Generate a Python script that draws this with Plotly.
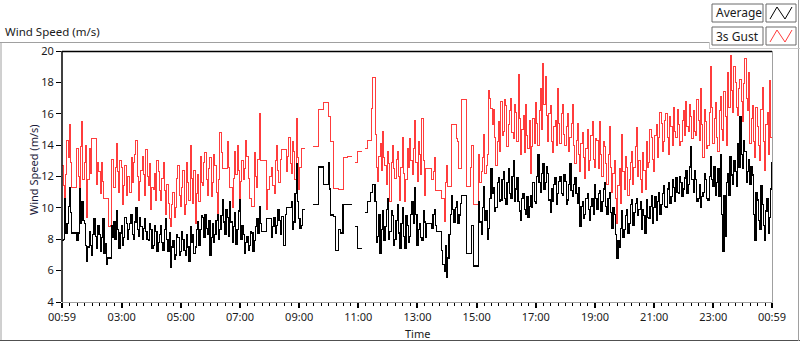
import pandas as pd
import plotly.graph_objects as go

# ---------------- data ----------------
time_start = "2024-01-01 00:59"
n_samples = 289          # readings on the 5-min grid
n_fine = 2 * n_samples - 1  # plus the readings half-way in between (2.5-min grid)
times = pd.date_range(time_start, periods=n_fine, freq="150s")

# 3s gust readings on the 5-min grid
gust_speed = [
    12.7, 9.6, 14.3, 15.3, 11.3, 11.3, 13.8, 10.6, 15.5, 12.9,
    9.4, 13.8, 14.4, 14.4, 11.5, 12.3, 12.9, 10.6, 10.6, 8.8,
    13.1, 11.3, 14.1, 11.0, 12.6, 11.4, 10.8, 12.0, 13.2, 12.9,
    14.3, 10.5, 12.4, 12.1, 13.7, 11.4, 9.9, 11.2, 10.5, 12.3,
    10.5, 12.9, 9.6, 10.3, 8.8, 11.0, 10.0, 12.7, 10.1, 12.4,
    10.2, 11.6, 14.0, 10.3, 9.0, 12.1, 13.3, 11.4, 13.5, 10.8,
    13.2, 11.6, 12.7, 9.5, 14.8, 12.5, 12.5, 14.2, 11.3, 10.0,
    13.6, 14.0, 10.0, 13.0, 12.5, 13.3, 10.6, 10.1, 13.5, 11.3,
    16.0, 13.0, 13.0, 9.9, 12.0, 12.6, 10.9, 14.0, 11.6, 13.7,
    13.7, 12.3, 14.5, 12.2, 13.6, 15.7, 11.2, 13.8, 13.8, None,
    None, None, 13.9, 13.9, 16.3, 16.3, 16.7, 16.7, 15.8, 14.2,
    11.25, 11.25, 11.15, 11.15, 13.2, 13.2, 13.3, 13.3, None, 12.9,
    13.6, 13.6, None, 13.8, 14.3, 14.3, 18.3, 14.65, 11.7, 14.1,
    14.9, 12.7, 13.6, 10.4, 14.0, 11.9, 13.6, 10.5, 14.5, 10.4,
    13.8, 14.4, 12.1, 15.6, 11.7, 13.4, 15.7, 10.8, 12.5, 12.5,
    11.8, 13.2, 11.1, 11.1, 10.6, 9.1, 12.7, 11.35, 15.3, 15.3,
    14.4, 12.5, 16.9, 16.9, 11.35, 11.35, 14.0, 10.2, 10.2, 13.4,
    12.3, 14.65, 12.7, 17.5, 16.35, 16.3, 12.7, 15.5, 16.8, 14.9,
    16.5, 15.3, 17.0, 14.4, 16.1, 18.5, 13.4, 15.9, 16.6, 13.8,
    12.2, 15.7, 16.7, 14.0, 17.6, 19.2, 18.4, 14.2, 16.5, 13.5,
    15.6, 17.6, 14.1, 16.6, 14.0, 16.0, 14.5, 16.6, 12.8, 15.4,
    12.3, 14.8, 11.9, 15.0, 13.0, 15.5, 12.6, 14.3, 15.5, 12.0,
    13.9, 11.5, 15.2, 11.0, 13.0, 9.0, 12.5, 14.7, 11.2, 12.6,
    11.8, 13.6, 12.6, 15.1, 13.0, 11.0, 12.4, 14.2, 12.9, 14.5,
    12.3, 15.3, 14.5, 15.4, 14.2, 16.0, 13.4, 15.2, 16.4, 14.5,
    15.3, 14.2, 16.2, 16.8, 14.9, 15.8, 16.2, 14.6, 15.6, 17.6,
    13.2, 15.5, 14.0, 19.0, 14.1, 16.7, 13.6, 17.1, 14.3, 15.8,
    18.6, 19.7, 16.1, 18.0, 15.9, 18.2, 15.5, 19.5, 16.2, 14.1,
    16.5, 13.2, 15.2, 13.0, 17.7, 12.4, 16.1, 18.1, 17.2,
]
# 3s gust readings half-way between the 5-min grid points
gust_speed_mid = [
    11.4, 12.1, 13.2, 12.9, 11.3, 11.3, 12.0, 13.9, 11.8, 14.0,
    11.8, 12.2, 14.4, 14.4, 12.9, 10.9, 11.7, 10.6, 10.6, 8.9,
    13.1, 12.6, 12.3, 13.0, 10.2, 12.7, 12.0, 11.0, 11.6, 13.4,
    12.0, 11.7, 13.3, 10.8, 12.0, 12.8, 11.3, 12.2, 13.0, 11.1,
    11.9, 11.1, 11.5, 9.3, 10.2, 9.4, 11.9, 10.8, 11.3, 9.6,
    12.9, 10.5, 11.9, 12.4, 10.9, 10.4, 11.6, 12.9, 11.8, 12.5,
    10.7, 13.4, 11.0, 11.8, 13.5, 12.5, 12.5, 12.6, 11.3, 11.9,
    12.1, 12.4, 11.7, 11.8, 14.3, 11.9, 10.6, 10.1, 12.0, 13.1,
    13.0, 13.0, 13.0, 11.2, 12.0, 11.4, 13.0, 12.4, 13.1, 13.7,
    13.7, 13.3, 12.8, 14.2, 11.8, 13.2, 12.6, 13.8, 13.8, None,
    None, None, 13.9, 13.9, 16.3, 16.3, 16.7, 16.7, 15.8, 14.2,
    11.25, 11.25, 11.15, 11.15, 13.2, 13.2, 13.3, 13.3, None, 12.9,
    13.6, 13.6, None, 13.8, 14.3, 16.35, 18.3, 12.6, 13.3, 12.4,
    13.2, 11.5, 12.8, 12.9, 12.5, 13.1, 12.0, 12.6, 12.2, 11.8,
    12.6, 13.0, 13.8, 12.9, 14.2, 12.1, 13.0, 12.5, 12.5, 12.5,
    12.3, 11.1, 11.1, 11.1, 10.6, 11.6, 11.35, 11.35, 15.3, 15.3,
    14.2, 12.5, 16.9, 16.9, 11.35, 12.6, 14.0, 10.2, 10.2, 11.6,
    13.2, 12.2, 13.4, 17.0, 15.3, 14.5, 14.2, 13.6, 14.6, 16.9,
    13.9, 16.2, 14.8, 16.6, 14.2, 15.7, 15.0, 13.5, 14.6, 15.6,
    13.9, 14.1, 15.4, 16.2, 15.0, 16.6, 15.9, 16.0, 14.2, 15.2,
    14.0, 15.4, 16.0, 14.7, 15.2, 13.6, 15.4, 14.0, 14.3, 13.4,
    14.1, 13.2, 13.8, 12.4, 14.6, 13.1, 14.4, 12.5, 13.4, 14.2,
    12.8, 13.4, 12.6, 12.2, 10.6, 11.4, 10.3, 12.3, 13.3, 10.8,
    12.9, 11.5, 13.9, 12.0, 11.8, 13.5, 11.2, 12.6, 15.0, 13.1,
    14.6, 13.2, 16.1, 13.6, 15.6, 14.5, 15.8, 14.0, 14.9, 16.3,
    14.0, 15.6, 14.6, 15.2, 16.6, 14.4, 14.9, 16.9, 14.3, 15.3,
    16.3, 13.8, 16.1, 16.4, 15.7, 14.5, 16.2, 15.0, 17.4, 14.0,
    16.4, 17.5, 19.0, 16.4, 17.6, 16.8, 17.9, 17.0, 18.6, 15.7,
    14.2, 16.4, 14.0, 16.3, 14.2, 15.3, 13.4, 14.5,
]

# 10-min average readings on the 5-min grid
avg_speed = [
    7.9, 10.6, 9.0, 11.3, 8.4, 8.4, 7.9, 11.2, 10.4, 9.0,
    6.6, 8.5, 7.0, 9.3, 7.4, 8.3, 8.1, 7.1, 6.4, 6.8,
    8.9, 9.1, 9.8, 7.4, 8.9, 8.1, 9.0, 8.6, 9.6, 8.0,
    10.0, 8.2, 8.8, 8.7, 8.5, 7.9, 8.6, 7.6, 8.5, 7.8,
    8.9, 7.3, 9.3, 7.2, 6.2, 7.9, 7.0, 8.1, 7.2, 8.0,
    7.0, 7.5, 8.8, 8.3, 7.5, 9.1, 8.6, 9.4, 9.6, 8.3,
    7.0, 9.0, 8.3, 9.6, 8.6, 10.5, 8.3, 9.4, 10.4, 7.8,
    9.7, 8.6, 10.5, 8.9, 7.1, 8.2, 7.6, 8.4, 7.9, 9.3,
    10.1, 8.5, 8.5, 9.3, 9.3, 8.1, 9.4, 8.9, 9.2, 9.45,
    7.6, 10.0, 10.0, 10.4, 9.1, 12.8, 9.3, 8.9, 9.9, None,
    None, None, 10.2, 10.2, 12.6, 12.6, 11.5, 11.5, 12.9, 9.55,
    9.45, 7.3, 8.6, 8.4, 10.2, 10.2, 10.2, 10.2, None, 8.8,
    7.4, 7.4, None, 9.7, 10.4, 11.0, 11.5, 10.4, 8.2, 7.1,
    9.8, 8.8, 10.6, 8.5, 9.5, 8.0, 10.2, 7.4, 10.0, 7.4,
    8.9, 8.2, 10.4, 11.3, 7.6, 9.0, 7.9, 9.1, 9.0, 9.0,
    8.7, 9.9, 8.5, 8.5, 7.3, 5.95, 5.6, 8.3, 10.8, 9.1,
    10.4, 9.55, 10.8, 10.8, 7.1, 7.1, 8.9, 6.3, 6.3, 10.4,
    8.3, 11.35, 9.8, 8.7, 12.5, 11.3, 10.0, 11.9, 10.5, 12.3,
    10.2, 12.5, 10.6, 13.0, 11.2, 10.4, 9.2, 10.9, 9.6, 9.4,
    10.8, 11.6, 10.3, 13.4, 11.0, 12.8, 11.6, 12.2, 9.7, 10.4,
    11.9, 10.9, 12.0, 10.8, 11.7, 10.5, 12.8, 10.7, 11.9, 10.3,
    8.8, 10.4, 9.6, 10.9, 9.2, 10.6, 11.5, 9.9, 11.1, 10.4,
    11.6, 9.6, 11.0, 8.7, 9.6, 6.8, 7.5, 9.8, 8.6, 9.9,
    9.0, 10.5, 9.7, 10.6, 9.9, 8.6, 9.5, 10.5, 9.3, 10.8,
    10.0, 9.2, 11.0, 10.2, 11.4, 10.0, 11.6, 10.7, 11.3, 11.9,
    10.9, 11.6, 11.2, 12.4, 11.5, 13.9, 11.0, 11.8, 10.6, 10.0,
    11.0, 11.8, 10.5, 13.3, 11.4, 10.8, 12.5, 13.4, 7.2, 8.2,
    12.2, 13.3, 11.5, 12.3, 14.1, 15.8, 12.5, 13.6, 12.3, 11.5,
    12.1, 7.9, 10.5, 8.6, 10.2, 7.9, 10.6, 9.4, 12.9,
]
# average readings half-way between the 5-min grid points
avg_speed_mid = [
    8.0, 8.4, 10.1, 9.7, 8.4, 8.4, 8.4, 9.0, 9.2, 7.6,
    7.5, 7.6, 8.3, 8.2, 8.9, 7.2, 9.3, 7.7, 6.8, 6.8,
    8.1, 8.0, 8.6, 8.4, 7.6, 9.4, 8.0, 9.0, 8.3, 9.1,
    8.6, 9.4, 8.0, 9.3, 8.0, 9.0, 7.4, 8.9, 7.2, 8.3,
    7.8, 8.6, 8.0, 8.4, 7.5, 6.7, 8.3, 7.0, 8.5, 7.3,
    8.3, 6.6, 7.8, 7.1, 8.6, 7.6, 9.5, 8.1, 8.7, 9.2,
    8.1, 7.8, 9.2, 8.0, 9.5, 9.1, 9.9, 8.2, 9.1, 8.8,
    7.7, 9.8, 8.0, 8.3, 7.8, 7.3, 8.5, 7.2, 8.8, 8.4,
    9.0, 8.5, 8.5, 9.3, 9.3, 8.8, 8.4, 9.9, 8.3, 9.45,
    9.6, 10.0, 10.0, 8.6, 10.9, 10.4, 8.7, 9.9, 9.9, None,
    None, None, 10.2, 10.2, 12.6, 12.6, 11.5, 11.5, 11.2, 9.55,
    9.45, 7.3, 8.6, 8.4, 10.2, 10.2, 10.2, 10.2, None, 8.8,
    7.4, 7.4, None, 9.7, 10.4, 11.0, 11.5, 7.8, 9.6, 8.6,
    7.9, 9.9, 8.0, 9.8, 7.6, 9.2, 8.4, 9.0, 8.2, 9.5,
    7.8, 9.6, 9.0, 9.6, 8.6, 8.1, 9.8, 8.1, 9.0, 9.0,
    9.6, 8.9, 8.5, 8.5, 6.4, 7.6, 6.8, 9.6, 9.9, 10.0,
    9.0, 10.3, 10.8, 10.8, 7.1, 7.1, 8.9, 6.3, 6.3, 9.1,
    10.0, 9.2, 8.0, 10.6, 10.9, 9.8, 11.6, 10.4, 11.8, 10.6,
    11.6, 10.9, 12.0, 10.4, 11.9, 9.8, 10.6, 9.9, 10.7, 10.1,
    10.0, 10.4, 12.0, 11.6, 12.2, 11.2, 12.6, 10.5, 11.2, 11.5,
    10.2, 11.7, 10.9, 12.1, 10.2, 11.5, 11.1, 11.5, 10.9, 11.3,
    10.1, 9.3, 10.6, 9.9, 10.1, 9.6, 10.6, 10.9, 9.8, 11.2,
    10.1, 10.6, 9.7, 10.0, 8.3, 7.9, 8.7, 8.1, 9.5, 8.4,
    10.2, 8.9, 10.3, 9.5, 10.4, 9.9, 8.4, 9.4, 10.1, 9.0,
    10.7, 10.4, 9.6, 10.9, 10.1, 11.2, 10.3, 11.8, 10.4, 11.0,
    12.0, 10.7, 11.9, 10.9, 12.6, 11.8, 12.4, 10.4, 11.5, 10.7,
    12.2, 10.6, 12.0, 11.8, 12.6, 11.6, 10.7, 9.6, 10.8, 11.6,
    10.8, 12.1, 13.0, 11.4, 12.6, 13.4, 14.3, 11.6, 13.1, 12.6,
    9.6, 11.0, 9.2, 11.4, 8.9, 9.8, 8.4, 11.2,
]

assert len(gust_speed) == n_samples and len(avg_speed) == n_samples
assert len(gust_speed_mid) == n_samples - 1 and len(avg_speed_mid) == n_samples - 1


def merge(grid, mid):
    out = []
    for a, b in zip(grid[:-1], mid):
        out += [a, b]
    out.append(grid[-1])
    return out


gust_series = merge(gust_speed, gust_speed_mid)
avg_series = merge(avg_speed, avg_speed_mid)

x_tick_times = ["2024-01-01 00:59", "2024-01-01 03:00", "2024-01-01 05:00",
                "2024-01-01 07:00", "2024-01-01 09:00", "2024-01-01 11:00",
                "2024-01-01 13:00", "2024-01-01 15:00", "2024-01-01 17:00",
                "2024-01-01 19:00", "2024-01-01 21:00", "2024-01-01 23:00",
                "2024-01-02 00:59"]
x_tick_labels = ["00:59", "03:00", "05:00", "07:00", "09:00", "11:00", "13:00",
                 "15:00", "17:00", "19:00", "21:00", "23:00", "00:59"]
y_ticks = [4, 6, 8, 10, 12, 14, 16, 18, 20]

series_names = ["Average", "3s Gust"]

# ---------------- layout helpers (pixel -> paper) ----------------
W, H = 800, 342
L, R, T, B = 62, 772, 51, 302


def px(x):
    return (x - L) / (R - L)


def py(y):
    return (B - y) / (B - T)


FONT = "Noto Sans, Open Sans, sans-serif"
TXT = "#1a1a1a"
RED = "#ff3c3c"
FS = 11

fig = go.Figure()
fig.add_trace(go.Scatter(x=times, y=gust_series, mode="lines", line_shape="hv",
                         line=dict(color=RED, width=1), name=series_names[1],
                         connectgaps=False, hoverinfo="skip"))
fig.add_trace(go.Scatter(x=times, y=avg_series, mode="lines", line_shape="hv",
                         line=dict(color="#000000", width=1.2), name=series_names[0],
                         connectgaps=False, hoverinfo="skip"))

minor_vals = list(pd.date_range("2024-01-01 01:00", "2024-01-02 00:45", freq="15min"))

fig.update_layout(
    width=W, height=H,
    margin=dict(l=L, r=W - R, t=T, b=H - B),
    paper_bgcolor="white", plot_bgcolor="white",
    showlegend=False,
    font=dict(family=FONT, size=FS, color=TXT),
    xaxis=dict(
        range=[times[0], times[-1]], showgrid=False, zeroline=False,
        tickmode="array", tickvals=x_tick_times, ticktext=x_tick_labels,
        ticks="outside", ticklen=5, tickwidth=2, tickcolor="#000",
        tickfont=dict(size=FS, color=TXT, family=FONT),
        minor=dict(tickvals=minor_vals, ticks="outside", ticklen=3,
                   tickwidth=1, tickcolor="#000", showgrid=False),
        showline=False,
    ),
    yaxis=dict(
        range=[4, 20], showgrid=False, zeroline=False,
        tickmode="array", tickvals=y_ticks, ticktext=[str(v) for v in y_ticks],
        ticks="outside", ticklen=5, tickwidth=1, tickcolor="#000",
        tickfont=dict(size=FS, color=TXT, family=FONT),
        showline=False,
    ),
)

shapes = []


def hline(y, x0, x1, color, width=1):
    shapes.append(dict(type="line", xref="paper", yref="paper",
                       x0=px(x0), x1=px(x1), y0=py(y), y1=py(y),
                       line=dict(color=color, width=width)))


def vline(x, y0, y1, color, width=1):
    shapes.append(dict(type="line", xref="paper", yref="paper",
                       x0=px(x), x1=px(x), y0=py(y0), y1=py(y1),
                       line=dict(color=color, width=width)))


# outer frame
hline(42.5, 0, 710, "#a0a0a0")
vline(1, 42, 341, "#a0a0a0")
hline(340.5, 0, 800, "#505050")
vline(798.5, 0, 341, "#a0a0a0")
# legend panel edge
hline(48.5, 709, 800, "#c8c8c8")
vline(709.5, 42, 48.5, "#c8c8c8")

# plot frame
hline(51.5, 62, 772, "#000000", 1.5)
vline(62, 51, 302, "#000000", 1.5)
vline(772.5, 51, 302.5, "#a0a0a0", 1)
hline(302.5, 62, 772.5, "#a0a0a0", 1)

# legend boxes
legend_rows = [(4, 22, "#000000"), (27, 45, RED)]
for (ytop, ybot, col), name in zip(legend_rows, series_names):
    for (xl, xr) in [(712, 763), (766, 796)]:
        shapes.append(dict(type="rect", xref="paper", yref="paper",
                           x0=px(xl), x1=px(xr), y0=py(ybot), y1=py(ytop),
                           line=dict(color="#6a6a6a", width=1), fillcolor="white"))
    pts = [(770, ybot - 3), (777, ytop + 3), (785, ybot - 3), (792, ytop + 3)]
    path = "M " + " L ".join(f"{px(a)},{py(b)}" for a, b in pts)
    shapes.append(dict(type="path", xref="paper", yref="paper", path=path,
                       line=dict(color=col, width=1)))
    fig.add_annotation(x=px(714), y=py((ytop + ybot) / 2), xref="paper", yref="paper",
                       text=name, showarrow=False, xanchor="left", yanchor="middle",
                       font=dict(size=FS + 1, color=TXT, family=FONT))

fig.update_layout(shapes=shapes)

# texts
fig.add_annotation(x=px(3), y=py(31), xref="paper", yref="paper",
                   text="Wind Speed (m/s)", showarrow=False, xanchor="left",
                   yanchor="middle", font=dict(size=FS + 0.5, color=TXT, family=FONT))
fig.add_annotation(x=px(33), y=py(170), xref="paper", yref="paper",
                   text="Wind Speed (m/s)", showarrow=False, textangle=-90,
                   xanchor="center", yanchor="middle",
                   font=dict(size=FS, color="#1a1a3a", family=FONT))
fig.add_annotation(x=px(417), y=py(333), xref="paper", yref="paper",
                   text="Time", showarrow=False, xanchor="center", yanchor="middle",
                   font=dict(size=FS, color=TXT, family=FONT))

crisp_js = (
    "document.body.style.margin='0';document.body.style.overflow='hidden';"
    "document.querySelectorAll('.scatterlayer path.js-line').forEach(function(p){"
    "p.style.shapeRendering='crispEdges';});"
)
fig.write_html("out.html", config={"displayModeBar": False}, post_script=crisp_js)
